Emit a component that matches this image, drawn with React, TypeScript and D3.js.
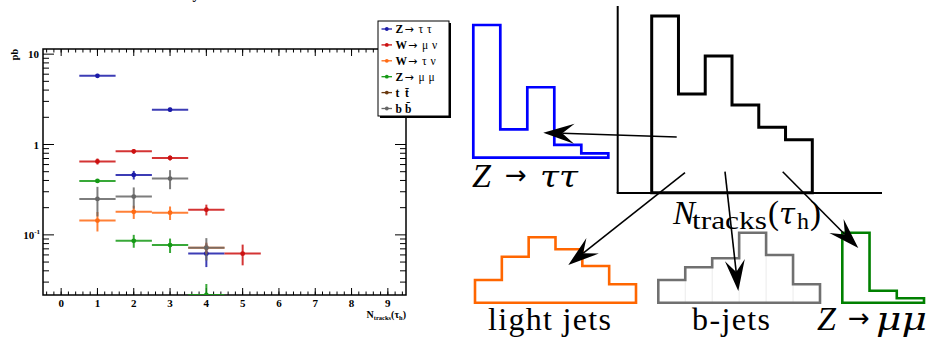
import React from "react";
import * as d3 from "d3";

// ---------- data: left plot (cross-section per N_tracks bin, log scale) ----------
const xBins = [1, 2, 3, 4, 5];
const xTickLabels = ["0", "1", "2", "3", "4", "5", "6", "7", "8", "9"];
const zTauTau = [5.75, 0.46, 2.43, 0.062, null];
const zTauTauErr = [0.3, 0.05, 0.12, 0.018, null];
const wMuNu = [0.65, 0.84, 0.71, 0.19, 0.062];
const wMuNuErr = [0.05, 0.05, 0.045, 0.026, 0.016];
const wTauNu = [0.144, 0.18, 0.176, 0.072, null];
const wTauNuErr = [0.035, 0.03, 0.03, 0.01, null];
const zMuMu = [0.395, 0.086, 0.077, 0.0216, null];
const zMuMuErr = [0.02, 0.014, 0.014, 0.007, null];
const ttbar: (number | null)[] = [null, null, null, null, null];
const ttbarErr: (number | null)[] = [null, null, null, null, null];
const bbbar = [0.25, 0.265, 0.42, 0.072, null];
const bbbarErr = [0.09, 0.07, 0.1, 0.02, null];
const legendLabels = [
  ["Z", "\u03c4 \u03c4"],
  ["W", "\u03bc \u03bd"],
  ["W", "\u03c4 \u03bd"],
  ["Z", "\u03bc \u03bc"],
  ["t", "t\u0304"],
  ["b", "b\u0304"],
];

// ---------- data: schematic histograms (relative heights) ----------
const mainHist = [1, 0.558, 0.774, 0.497, 0.371, 0.299];
const zttHist = [1, 0.214, 0.531, 0.096, 0.033];
const lightHist = [0.347, 0.703, 1, 0.817, 0.561, 0.281];
const bHist = [0.324, 0.506, 0.634, 1, 0.681, 0.263];
const zmmHist = [1, 0.171, 0.063];

const FONT = "'Liberation Serif', 'Times New Roman', serif";
const ARROWFONT = "'DejaVu Sans', sans-serif";
const GREEKFONT = "'DejaVu Serif', serif";

function histPath(vals: number[], left: number, right: number, base: number, top: number) {
  const xs = d3.scaleLinear().domain([0, vals.length]).range([left, right]);
  const ys = d3.scaleLinear().domain([0, 1]).range([base, top]);
  const pts: [number, number][] = [[xs(0), ys(0)]];
  vals.forEach((v, i) => {
    pts.push([xs(i), ys(v)]);
    pts.push([xs(i + 1), ys(v)]);
  });
  pts.push([xs(vals.length), ys(0)]);
  return (d3.line()(pts) || "") + "Z";
}

function Arrow({ x1, y1, x2, y2 }: { x1: number; y1: number; x2: number; y2: number }) {
  const dx = x2 - x1, dy = y2 - y1;
  const len = Math.hypot(dx, dy);
  const ux = dx / len, uy = dy / len;
  const nx = -uy, ny = ux;
  const L = 31, Wd = 10, inner = 19;
  const p = [
    [x2, y2],
    [x2 - L * ux + Wd * nx, y2 - L * uy + Wd * ny],
    [x2 - inner * ux, y2 - inner * uy],
    [x2 - L * ux - Wd * nx, y2 - L * uy - Wd * ny],
  ];
  return (
    <g>
      <line x1={x1} y1={y1} x2={x2 - inner * ux} y2={y2 - inner * uy} stroke="#000" strokeWidth={1.6} />
      <polygon points={p.map((q) => q.join(",")).join(" ")} fill="#000" />
    </g>
  );
}

export default function App() {
  // left plot frame
  const L = 43, R = 406, T = 49, B = 295;
  const x = d3.scaleLinear().domain([-0.5, 9.5]).range([L, R]);
  const y = d3.scaleLog().domain([0.0216, 11.4]).range([B, T]);

  const series = [
    { vals: zTauTau, errs: zTauTauErr, color: "#1a1aa8" },
    { vals: wMuNu, errs: wMuNuErr, color: "#cc1111" },
    { vals: wTauNu, errs: wTauNuErr, color: "#ff6a13" },
    { vals: zMuMu, errs: zMuMuErr, color: "#159915" },
    { vals: ttbar, errs: ttbarErr, color: "#6b3a10" },
    { vals: bbbar, errs: bbbarErr, color: "#666666" },
  ];

  const majorX = d3.range(0, 10);
  const minorX = d3.range(-2, 48).map((i) => i * 0.2).filter((v) => v > -0.5 && v < 9.5);
  const majorY = [0.1, 1, 10];
  const minorY: number[] = [];
  [-2, -1, 0, 1].forEach((d) => {
    for (let k = 2; k <= 9; k++) {
      const v = k * Math.pow(10, d);
      if (v > 0.0216 && v < 11.4) minorY.push(v);
    }
  });

  const legendRowY = d3.scaleLinear().domain([0, 5]).range([29, 108.5]);
  const bx = d3.scaleLinear().domain([0, bHist.length]).range([658.3, 820]);
  const by = d3.scaleLinear().domain([0, 1]).range([302.7, 232.7]);

  return (
    <svg
      width={929}
      height={339}
      style={{ position: "absolute", left: 0, top: 0, background: "#fff" }}
      fontFamily={FONT}
    >
      <rect width={929} height={339} fill="#fff" />
      <defs>
        <clipPath id="plotClip">
          <rect x={L} y={T - 3} width={R - L} height={B - T + 3} />
        </clipPath>
      </defs>

      {/* cut-off title */}
      <text x={196} y={-1} fontSize={14} fontWeight="bold" textAnchor="middle">y</text>

      {/* frame */}
      <rect x={L} y={T} width={R - L} height={B - T} fill="none" stroke="#000" strokeWidth={1.5} />

      {/* x ticks */}
      {majorX.map((v) => (
        <g key={"mx" + v}>
          <line x1={x(v)} x2={x(v)} y1={B} y2={B - 7} stroke="#000" strokeWidth={1} />
          <line x1={x(v)} x2={x(v)} y1={T} y2={T + 7} stroke="#000" strokeWidth={1} />
        </g>
      ))}
      {minorX.map((v, i) => (
        <g key={"nx" + i}>
          <line x1={x(v)} x2={x(v)} y1={B} y2={B - 3.5} stroke="#000" strokeWidth={1} />
          <line x1={x(v)} x2={x(v)} y1={T} y2={T + 3.5} stroke="#000" strokeWidth={1} />
        </g>
      ))}
      {majorX.map((v, i) => (
        <text key={"lx" + v} x={x(v)} y={307} fontSize={11} fontWeight="bold" textAnchor="middle">
          {xTickLabels[i]}
        </text>
      ))}

      {/* y ticks */}
      {majorY.map((v) => (
        <g key={"my" + v}>
          <line x1={L} x2={L + 11} y1={y(v)} y2={y(v)} stroke="#000" strokeWidth={1} />
          <line x1={R} x2={R - 11} y1={y(v)} y2={y(v)} stroke="#000" strokeWidth={1} />
        </g>
      ))}
      {minorY.map((v, i) => (
        <g key={"ny" + i}>
          <line x1={L} x2={L + 6} y1={y(v)} y2={y(v)} stroke="#000" strokeWidth={1} />
          <line x1={R} x2={R - 6} y1={y(v)} y2={y(v)} stroke="#000" strokeWidth={1} />
        </g>
      ))}
      <text x={39} y={y(10) + 4} fontSize={11} fontWeight="bold" textAnchor="end">10</text>
      <text x={39} y={y(1) + 4} fontSize={11} fontWeight="bold" textAnchor="end">1</text>
      <text x={40} y={y(0.1) + 4} fontSize={11} fontWeight="bold" textAnchor="end">
        10<tspan fontSize={7} dy={-5}>-1</tspan>
      </text>
      <text transform={`translate(18,${T}) rotate(-90)`} fontSize={10} fontWeight="bold" textAnchor="end">pb</text>

      {/* x title */}
      <text x={R} y={318} fontSize={10} fontWeight="bold" textAnchor="end">
        N<tspan fontSize={6.5} dy={2}>tracks</tspan>
        <tspan dy={-2}>{"(\u03c4"}</tspan>
        <tspan fontSize={6.5} dy={2}>h</tspan>
        <tspan dy={-2}>)</tspan>
      </text>

      {/* data */}
      <g clipPath="url(#plotClip)">
        {series.map((s, si) => (
          <g key={"s" + si}>
            {xBins.map((b, i) => {
              const v = s.vals[i];
              const e = s.errs[i];
              if (v == null) return null;
              const lo = Math.max(v - (e || 0), 0.001);
              const hi = v + (e || 0);
              return (
                <g key={"p" + i}>
                  <line x1={x(b - 0.5)} x2={x(b + 0.5)} y1={y(v)} y2={y(v)} stroke={s.color} strokeWidth={2} strokeOpacity={0.85} />
                  <line x1={x(b)} x2={x(b)} y1={y(lo)} y2={y(hi)} stroke={s.color} strokeWidth={2} strokeOpacity={0.85} />
                  <circle cx={x(b)} cy={y(v)} r={2.4} fill={s.color} />
                </g>
              );
            })}
          </g>
        ))}
      </g>

      {/* legend */}
      <rect x={380} y={23} width={71} height={95} fill="#000" />
      <rect x={378} y={21} width={71} height={95} fill="#fff" stroke="#000" strokeWidth={1} />
      {legendLabels.map((lab, i) => {
        const yy = legendRowY(i);
        const c = series[i].color;
        const isDecay = i < 4;
        return (
          <g key={"lg" + i}>
            <line x1={381.5} x2={392} y1={yy} y2={yy} stroke={c} strokeWidth={1.3} />
            <circle cx={386.8} cy={yy} r={1.9} fill={c} />
            <text x={395.5} y={yy + 4} fontSize={11.5} fontWeight="bold">{lab[0]}</text>
            {isDecay ? (
              <>
                <text x={lab[0] === "W" ? 408 : 404.5} y={yy + 4} fontSize={11} fontFamily={ARROWFONT}>{"\u2192"}</text>
                <text x={lab[0] === "W" ? 422 : 418.5} y={yy + 4} fontSize={11.5} letterSpacing={0.5}>{lab[1]}</text>
              </>
            ) : (
              <text x={405} y={yy + 4} fontSize={11.5} fontWeight="bold">{lab[1]}</text>
            )}
          </g>
        );
      })}

      {/* ---------- schematic ---------- */}
      <line x1={617.7} x2={617.7} y1={6} y2={193} stroke="#000" strokeWidth={2} />
      <line x1={616.7} x2={882} y1={193} y2={193} stroke="#000" strokeWidth={2} />
      <path d={histPath(mainHist, 651.7, 812.3, 192.7, 16)} fill="none" stroke="#000" strokeWidth={3} strokeLinejoin="miter" />

      <path d={histPath(zttHist, 473.3, 608.3, 157.7, 25)} fill="none" stroke="#0000ff" strokeWidth={2.7} />
      <path d={histPath(lightHist, 475, 636, 302.7, 237.3)} fill="none" stroke="#ff6600" strokeWidth={2.6} />
      {d3.range(1, bHist.length).map((i) => (
        <line key={"bl" + i} x1={bx(i)} x2={bx(i)} y1={302.7} y2={by(Math.min(bHist[i - 1], bHist[i]))} stroke="#ebebeb" strokeWidth={1} />
      ))}
      <path d={histPath(bHist, 658.3, 820, 302.7, 232.7)} fill="none" stroke="#707070" strokeWidth={2.6} />
      <path d={histPath(zmmHist, 842.3, 924, 302.7, 232.7)} fill="none" stroke="#008000" strokeWidth={2.6} />

      {/* arrows */}
      <Arrow x1={676.7} y1={137} x2={543.3} y2={132.7} />
      <Arrow x1={685} y1={172.7} x2={568.3} y2={265} />
      <Arrow x1={725} y1={171.7} x2={738.3} y2={291} />
      <Arrow x1={782.7} y1={171.7} x2={858.3} y2={248} />

      {/* labels */}
      <text x={472} y={187} fontSize={34} fontStyle="italic">Z</text>
      <text x={505} y={184} fontSize={26} fontFamily={ARROWFONT}>{"\u2192"}</text>
      <text x={540} y={187} fontSize={30} fontStyle="italic" fontFamily={GREEKFONT} textLength={38} lengthAdjust="spacingAndGlyphs">{"\u03c4\u03c4"}</text>

      <text x={673} y={224} fontSize={33} fontStyle="italic">N</text>
      <text x={692} y={229} fontSize={26} textLength={75} lengthAdjust="spacingAndGlyphs">tracks</text>
      <text x={768} y={224} fontSize={33}>(</text>
      <text x={779} y={224} fontSize={29} fontStyle="italic" fontFamily={GREEKFONT}>{"\u03c4"}</text>
      <text x={797} y={229} fontSize={24}>h</text>
      <text x={810} y={224} fontSize={33}>)</text>

      <text x={488} y={330} fontSize={32} textLength={123} lengthAdjust="spacing">light jets</text>
      <text x={692} y={330} fontSize={32} textLength={78} lengthAdjust="spacing">b-jets</text>

      <text x={817} y={330} fontSize={34} fontStyle="italic">Z</text>
      <text x={848} y={327} fontSize={26} fontFamily={ARROWFONT}>{"\u2192"}</text>
      <text x={876} y={330} fontSize={31} fontStyle="italic" fontFamily={GREEKFONT} textLength={51} lengthAdjust="spacingAndGlyphs">{"\u03bc\u03bc"}</text>
    </svg>
  );
}
